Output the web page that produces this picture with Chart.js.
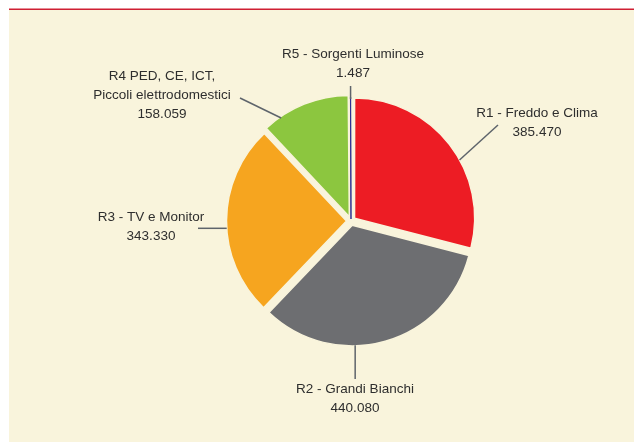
<!DOCTYPE html>
<html>
<head>
<meta charset="utf-8">
<script src="https://cdn.jsdelivr.net/npm/chart.js@4/dist/chart.umd.min.js"></script>
<style>
  html, body { margin: 0; padding: 0; background: #ffffff; }
  #wrap { width: 634px; height: 442px; position: relative; }
</style>
</head>
<body>
<div id="wrap"><canvas id="c"></canvas></div>
<script>
// ---- data ----
const categories = [
  "R1 - Freddo e Clima",
  "R2 - Grandi Bianchi",
  "R3 - TV e Monitor",
  "R4 PED, CE, ICT,\nPiccoli elettrodomestici",
  "R5 - Sorgenti Luminose"
];
const values = [385470, 440080, 343330, 158059, 1487];

// ---- styles ----
const sliceColors = ["#ed1c24", "#6d6e71", "#f6a51f", "#8cc63f", "#2e3192"];
const cream = "#f9f4dc";
const textColor = "#2e2e2e";
const leaderColor = "#5e646b";
const FONT = '13.5px "Liberation Sans", Arial, sans-serif';

// label layout: anchor angle (deg from top, null = slice middle), leader end and text centre relative to pie centre
const labelLayout = [
  { anchorDeg: 61,    end: [147, -96],   text: [186, -108] },
  { anchorDeg: 178.6, end: [null, 158],  text: [4, 168] },
  { anchorDeg: 266.5, end: [-153, null], text: [-200, -4] },
  { anchorDeg: 325.4, end: [-111, -123], text: [-189, -145] },
  { anchorDeg: null,  end: [null, -135], text: [2, -167] }
];

function fmt(v) {
  return String(v).replace(/\B(?=(\d{3})+(?!\d))/g, ".");
}

const bgPlugin = {
  id: "bg",
  beforeDraw(chart) {
    const ctx = chart.ctx;
    ctx.save();
    ctx.fillStyle = "#ffffff";
    ctx.fillRect(0, 0, chart.width, chart.height);
    ctx.fillStyle = cream;
    ctx.fillRect(9, 9, chart.width - 9, chart.height - 9);
    ctx.fillStyle = "#cf1f33";
    ctx.fillRect(9, 8.5, chart.width - 9, 1.5);
    ctx.restore();
  }
};

const labelPlugin = {
  id: "labels",
  afterDraw(chart) {
    const ctx = chart.ctx;
    const meta = chart.getDatasetMeta(0);
    const ds = chart.data.datasets[0];
    ctx.save();
    meta.data.forEach((arc, i) => {
      const p = arc.getProps(["x", "y", "startAngle", "endAngle", "outerRadius"], true);
      const half = (p.startAngle + p.endAngle) / 2;
      const off = (ds.offset[i] || 0) / 4;
      const ox = p.x + Math.cos(half) * off;
      const oy = p.y + Math.sin(half) * off;
      const L = labelLayout[i];
      const a = L.anchorDeg == null ? half : (L.anchorDeg - 90) * Math.PI / 180;
      const ax = ox + Math.cos(a) * p.outerRadius;
      const ay = oy + Math.sin(a) * p.outerRadius;
      const ex = L.end[0] == null ? ax : p.x + L.end[0];
      const ey = L.end[1] == null ? ay : p.y + L.end[1];
      ctx.strokeStyle = leaderColor;
      ctx.lineWidth = 1.5;
      ctx.beginPath();
      ctx.moveTo(ax, ay);
      ctx.lineTo(ex, ey);
      ctx.stroke();

      const lines = categories[i].split("\n").concat([fmt(values[i])]);
      ctx.fillStyle = textColor;
      ctx.font = FONT;
      ctx.textAlign = "center";
      ctx.textBaseline = "middle";
      lines.forEach((t, k) => {
        ctx.fillText(t, p.x + L.text[0], p.y + L.text[1] + k * 19.3);
      });
    });
    ctx.restore();
  }
};

new Chart(document.getElementById("c"), {
  type: "pie",
  data: {
    labels: categories,
    datasets: [{
      data: values,
      backgroundColor: sliceColors,
      borderColor: [cream, cream, cream, cream, sliceColors[4]],
      borderWidth: [1.5, 1.5, 1.5, 1.5, 1],
      offset: [18, 18, 18, 18, 8],
      radius: 120
    }]
  },
  options: {
    responsive: true,
    maintainAspectRatio: false,
    animation: false,
    events: [],
    layout: { padding: { left: 150, right: 82, top: 60, bottom: 60 } },
    plugins: {
      legend: { display: false },
      tooltip: { enabled: false }
    }
  },
  plugins: [bgPlugin, labelPlugin]
});
</script>
</body>
</html>
